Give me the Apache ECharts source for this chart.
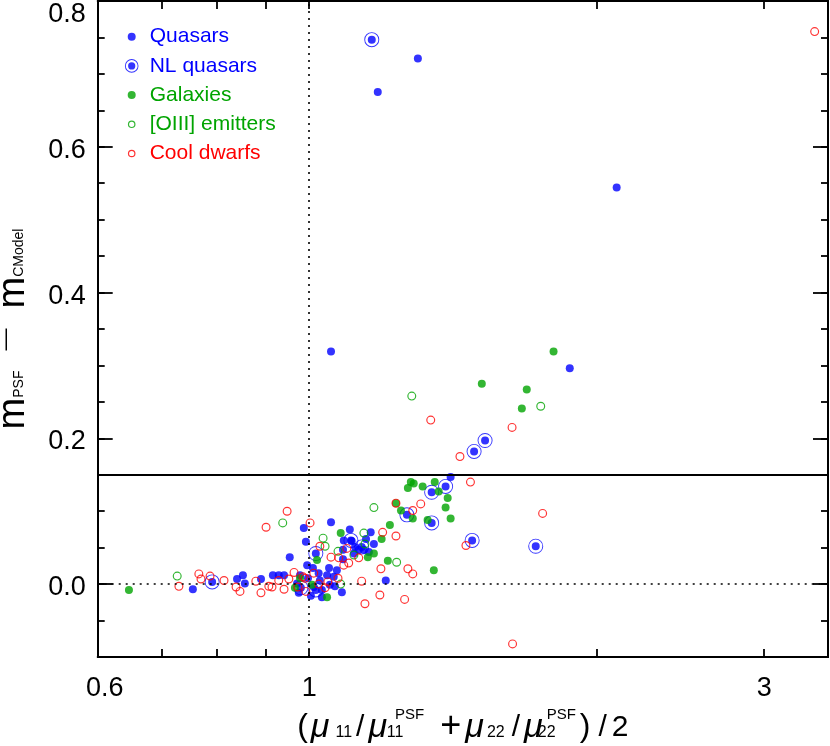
<!DOCTYPE html>
<html><head><meta charset="utf-8">
<script src="https://cdn.jsdelivr.net/npm/echarts@6/dist/echarts.min.js"></script>
<style>html,body{margin:0;padding:0;background:#fff}#c{width:830px;height:746px}</style>
</head><body><div id="c"></div>
<script>
// ---- axis ticks / labels ----
const xTickValues = [0.6, 0.7, 0.8, 0.9, 1, 2, 3];
const xLabelValues = [0.6, 1, 3];
const yLabelValues = [0, 0.2, 0.4, 0.6, 0.8];

// ---- data: [ (mu11/mu11psf + mu22/mu22psf)/2 , mPSF - mCModel ] ----
const quasars = [
  [1.180,0.675],[1.300,0.721],[2.101,0.544],[1.054,0.319],[1.876,0.296],[1.407,0.147],
  [1.160,0.071],[1.147,0.062],[1.169,0.055],[1.141,0.047],[1.155,0.044],[1.203,0.005],
  [0.987,0.077],[0.992,0.058],[1.054,0.085],[0.954,0.037],[1.103,0.075],[1.087,0.060],
  [1.117,0.051],[1.085,0.047],[1.085,0.034],[1.114,0.042],[1.127,0.047],[1.108,0.059],
  [0.916,0.012],[0.929,0.012],[0.941,0.012],[0.971,0.001],[0.975,-0.012],[0.995,0.026],
  [1.009,0.022],[1.023,0.015],[1.026,0.005],[1.011,-0.004],[1.049,0.022],[1.044,0.012],
  [1.061,0.010],[1.082,-0.011],[1.064,-0.003],[0.890,0.007],[0.840,0.007],[0.852,0.012],
  [0.755,-0.007],[0.997,0.008],[1.031,-0.008],[1.004,-0.016],[0.978,0.012],[1.051,-0.001],
  [1.069,0.019],[1.031,-0.018],[0.856,0.001]
];
const nlQuasars = [
  [1.163,0.747],[1.529,0.197],[1.489,0.182],[1.390,0.134],[1.344,0.126],[1.266,0.095],
  [1.344,0.084],[1.482,0.060],[1.728,0.052],[0.791,0.003],[1.016,0.042],[1.106,0.060],
  [1.135,0.051],[0.980,-0.005],[1.016,-0.008]
];
const galaxies = [
  [0.647,-0.008],[1.804,0.319],[1.517,0.275],[1.691,0.267],[1.671,0.241],[1.278,0.140],
  [1.287,0.138],[1.269,0.132],[1.315,0.134],[1.354,0.140],[1.367,0.127],[1.397,0.118],
  [1.390,0.105],[1.407,0.090],[1.284,0.090],[1.248,0.101],[1.233,0.111],[1.331,0.088],
  [1.215,0.081],[1.191,0.062],[1.169,0.042],[1.152,0.037],[1.209,0.032],[1.351,0.019],
  [1.079,0.070],[1.019,0.033],[1.044,-0.018],[1.007,-0.001],[0.978,0.008],[0.966,-0.005]
];
const oiiiEmitters = [
  [1.281,0.258],[1.749,0.244],[0.727,0.011],[0.938,0.084],[1.169,0.105],[1.141,0.070],
  [1.034,0.063],[1.039,0.052],[1.072,0.045],[1.079,0.000],[1.235,0.030],[1.114,0.040],
  [1.144,0.055]
];
const coolDwarfs = [
  [3.389,0.758],[1.341,0.225],[1.439,0.175],[1.632,0.215],[1.476,0.140],[1.757,0.097],
  [1.460,0.053],[1.233,0.111],[1.284,0.101],[1.309,0.110],[1.233,0.066],[1.194,0.071],
  [1.189,0.021],[1.269,0.021],[1.284,0.014],[1.186,-0.015],[1.259,-0.021],[1.144,-0.027],
  [1.135,0.004],[1.127,0.036],[1.100,0.029],[1.087,0.026],[1.074,0.036],[1.095,0.049],
  [1.026,0.052],[1.054,0.037],[1.002,0.084],[1.072,0.008],[1.046,0.003],[1.039,-0.005],
  [1.023,0.000],[1.011,0.015],[0.992,-0.010],[0.985,0.010],[0.730,-0.003],[0.766,0.014],
  [0.770,0.007],[0.787,0.011],[0.814,0.005],[0.838,-0.004],[0.846,-0.010],[0.879,0.004],
  [0.890,-0.012],[0.901,0.078],[0.948,0.100],[0.914,-0.004],[0.907,-0.003],[0.929,0.005],
  [0.941,-0.007],[0.964,0.016],[0.952,0.007],[0.973,-0.004],[0.990,0.008],[1.634,-0.082]
];

const BLUE = '#0000ff', GREEN = '#00a400', RED = '#ff0000';
const FONT = 'Liberation Sans';

const ringSym = 'path://M10,5A5,5,0,1,1,0,5A5,5,0,1,1,10,5ZM8.7,5A3.7,3.7,0,1,0,1.3,5A3.7,3.7,0,1,0,8.7,5Z';
const nlSym = 'path://M15.5,8A7.5,7.5,0,1,1,0.5,8A7.5,7.5,0,1,1,15.5,8ZM14.6,8A6.6,6.6,0,1,0,1.4,8A6.6,6.6,0,1,0,14.6,8ZM12,8A4,4,0,1,1,4,8A4,4,0,1,1,12,8Z';
const legDot = 'path://M0,0L0,0M16,16L16,16M12,8A4,4,0,1,1,4,8A4,4,0,1,1,12,8Z';
const legRing = 'path://M0,0L0,0M16,16L16,16M11.8,8A3.8,3.8,0,1,1,4.2,8A3.8,3.8,0,1,1,11.8,8ZM10.6,8A2.6,2.6,0,1,0,5.4,8A2.6,2.6,0,1,0,10.6,8Z';
const legNL = 'path://M0,0L0,0M16,16L16,16M14.8,8A6.8,6.8,0,1,1,1.2,8A6.8,6.8,0,1,1,14.8,8ZM13.9,8A5.9,5.9,0,1,0,2.1,8A5.9,5.9,0,1,0,13.9,8ZM11.6,8A3.6,3.6,0,1,1,4.4,8A3.6,3.6,0,1,1,11.6,8Z';

const axisLineStyle = { color: '#000', width: 2 };
const tickLine = { color: '#000', width: 1.8 };

function mainTok(pad, size) {
  return { fontFamily: FONT, fontSize: size || 30, height: 29, lineHeight: 35, verticalAlign: 'bottom', color: '#000', padding: pad || [0,0,0,0] };
}
function muTok(pad) {
  return { fontFamily: FONT, fontStyle: 'italic', fontSize: 34, height: 29, lineHeight: 35, verticalAlign: 'bottom', color: '#000', padding: pad || [0,0,0,0] };
}
const subTok = { fontFamily: FONT, fontSize: 16, height: 18, verticalAlign: 'bottom', color: '#000' };
function supTok(pad) {
  return { fontFamily: FONT, fontSize: 15, height: 15, verticalAlign: 'top', color: '#000', padding: pad };
}

const xName = '{p|(}{mu|μ}{sb|11}{sl|/}{mu1|μ}{sz|11}{sp1|PSF}{pl|+}{mu2|μ}{sb2|22}{sl2|/}{mu3|μ}{sz|22}{sp2|PSF}{p2|)}{sl3|/}{n|2}';
const xNameRich = {
  p: mainTok([0,3,0,0], 32),
  mu: muTok([0,6,0,0]),
  sb: Object.assign({}, subTok),
  sl: mainTok([0,4,0,4]),
  mu1: muTok([0,8,0,0]),
  sz: Object.assign({}, subTok, { width: 0 }),
  sp1: supTok([0,13,0,0]),
  pl: mainTok([0,4,0,3], 36),
  mu2: muTok([0,3,0,0]),
  sb2: Object.assign({}, subTok, { padding: [0,4,0,0] }),
  sl2: mainTok([0,4,0,3]),
  mu3: muTok([0,4,0,0]),
  sp2: supTok([0,4,0,0]),
  p2: mainTok([0,3,0,0], 32),
  sl3: mainTok([0,5,0,5]),
  n: mainTok()
};

const yName = '{m|m}{s|PSF}{d|—}{m|m}{s|CModel}';
const yNameRich = {
  m: { fontFamily: FONT, fontSize: 38, height: 38, lineHeight: 38, verticalAlign: 'bottom', color: '#000' },
  s: { fontFamily: FONT, fontSize: 14, height: 27, verticalAlign: 'bottom', color: '#000' },
  d: { fontFamily: FONT, fontSize: 22, height: 22, verticalAlign: 'top', color: '#000', padding: [0,20,0,20] }
};

function xAxisDef(pos, withLabels) {
  return {
    type: 'log', logBase: 10, min: 0.6, max: 3.5, position: pos,
    axisLine: { show: true, onZero: false, lineStyle: axisLineStyle },
    axisTick: { show: true, inside: true, length: 8, lineStyle: tickLine, customValues: xTickValues },
    axisLabel: withLabels ? {
      show: true, customValues: xLabelValues, margin: 18,
      fontFamily: FONT, fontSize: 27, color: '#000',
      formatter: v => Math.abs(v - 0.6) < 1e-6 ? '{a|0.6}' : String(Math.round(v * 10) / 10),
      rich: { a: { fontFamily: FONT, fontSize: 27, color: '#000', padding: [0,0,0,14] } }
    } : { show: false },
    splitLine: { show: false }, minorTick: { show: false },
    name: withLabels ? xName : '', nameLocation: 'middle', nameGap: 46,
    nameTextStyle: { rich: xNameRich }
  };
}
function yAxisDef(pos, major, withLabels) {
  const a = {
    type: 'value', min: -0.1, max: 0.8, position: pos,
    axisLine: { show: true, onZero: false, lineStyle: axisLineStyle },
    splitLine: { show: false },
    axisTick: { show: true, inside: true, length: major ? 15 : 7, lineStyle: tickLine },
    axisLabel: { show: false }
  };
  if (major) {
    a.axisTick.customValues = yLabelValues;
  } else {
    a.interval = 0.05;
  }
  if (withLabels) {
    a.axisLabel = {
      show: true, customValues: yLabelValues, margin: 12,
      formatter: v => (Math.abs(v - 0.8) < 1e-6 ? '{t|' : '{n|') + v.toFixed(1) + '}',
      rich: {
        n: { fontFamily: FONT, fontSize: 27, color: '#000', padding: [7,0,0,0] },
        t: { fontFamily: FONT, fontSize: 27, color: '#000', padding: [27,0,0,0] }
      }
    };
    a.name = yName; a.nameLocation = 'middle'; a.nameGap = 65;
    a.nameTextStyle = { rich: yNameRich };
  }
  return a;
}

const option = {
  animation: false,
  backgroundColor: '#fff',
  grid: { left: 97.7, right: 2, top: 1, bottom: 89, containLabel: false, outerBoundsMode: 'none' },
  legend: {
    orient: 'vertical', left: 123.7, top: 26.2, padding: 0,
    itemWidth: 16, itemHeight: 16, itemGap: 8.2, selectedMode: false,
    textStyle: { fontFamily: FONT, fontSize: 21, lineHeight: 21, padding: [0,0,0,5] },
    data: [
      { name: 'Quasars', icon: legDot, itemStyle: { color: BLUE, borderWidth: 0 }, textStyle: { color: BLUE } },
      { name: 'NL quasars', icon: legNL, itemStyle: { color: BLUE, borderWidth: 0 }, textStyle: { color: BLUE } },
      { name: 'Galaxies', icon: legDot, itemStyle: { color: GREEN, borderWidth: 0 }, textStyle: { color: GREEN } },
      { name: '[OIII] emitters', icon: legRing, itemStyle: { color: GREEN, borderWidth: 0 }, textStyle: { color: GREEN } },
      { name: 'Cool dwarfs', icon: legRing, itemStyle: { color: RED, borderWidth: 0 }, textStyle: { color: RED } }
    ]
  },
  xAxis: [ xAxisDef('bottom', true), xAxisDef('top', false) ],
  yAxis: [ yAxisDef('left', true, true), yAxisDef('left', false, false), yAxisDef('right', true, false), yAxisDef('right', false, false) ],
  series: [
    {
      name: 'Quasars', type: 'scatter', data: quasars, symbol: 'circle', symbolSize: 8,
      itemStyle: { color: BLUE }, emphasis: { disabled: true },
      markLine: {
        silent: true, symbol: 'none', label: { show: false }, animation: false,
        data: [
          { xAxis: 1, lineStyle: { color: '#000', width: 1.6, type: [2, 5] } },
          { yAxis: 0, lineStyle: { color: '#000', width: 1.6, type: [2, 5] } },
          { yAxis: 0.15, lineStyle: { color: '#000', width: 1.8, type: 'solid' } }
        ]
      }
    },
    { name: 'NL quasars', type: 'scatter', data: nlQuasars, symbol: nlSym, symbolSize: 15,
      itemStyle: { color: BLUE }, emphasis: { disabled: true } },
    { name: 'Galaxies', type: 'scatter', data: galaxies, symbol: 'circle', symbolSize: 8,
      itemStyle: { color: GREEN }, emphasis: { disabled: true } },
    { name: '[OIII] emitters', type: 'scatter', data: oiiiEmitters, symbol: ringSym, symbolSize: 9,
      itemStyle: { color: GREEN }, emphasis: { disabled: true } },
    { name: 'Cool dwarfs', type: 'scatter', data: coolDwarfs, symbol: ringSym, symbolSize: 9,
      itemStyle: { color: RED }, emphasis: { disabled: true } }
  ]
};
const chart = echarts.init(document.getElementById('c'), null, { renderer: 'canvas' });
chart.setOption(option);
</script>
</body></html>
